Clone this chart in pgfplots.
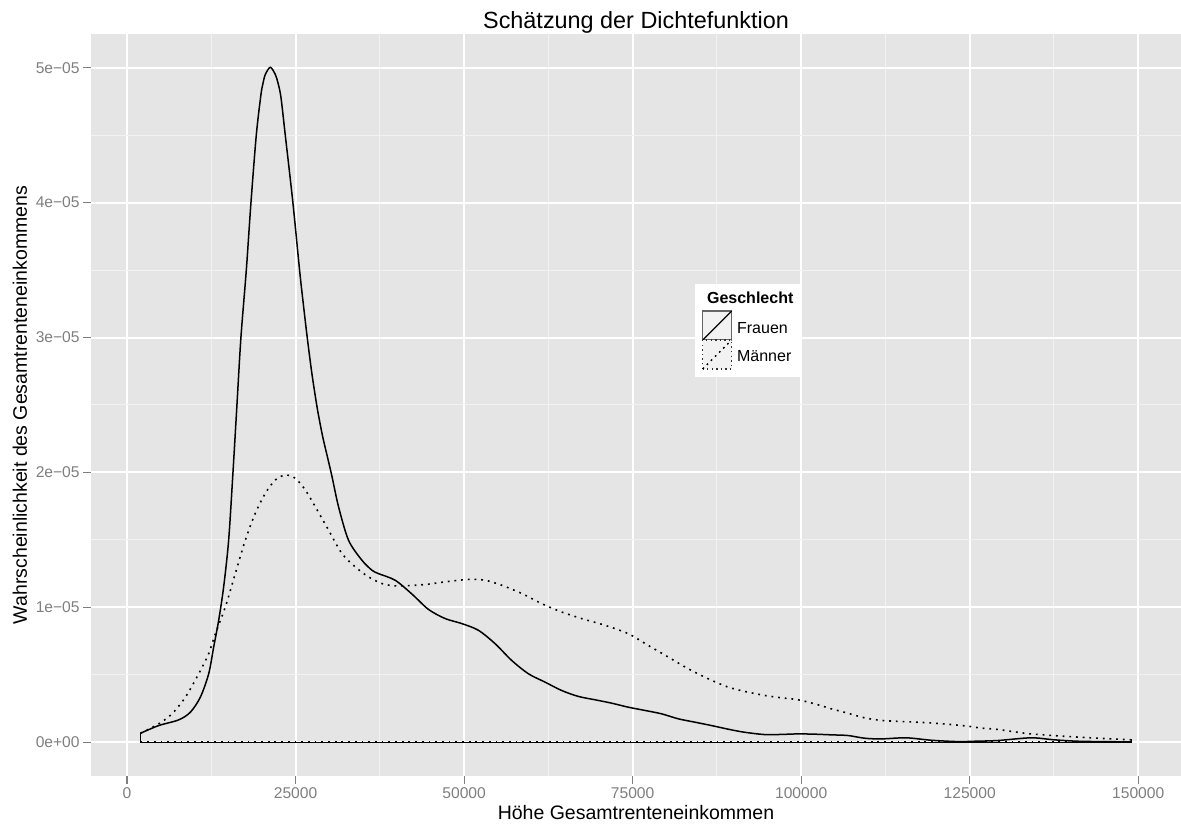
\documentclass[border=0pt]{standalone}
\usepackage{fontspec}
\setmainfont{Liberation Sans}
\usepackage{pgfplots}
\pgfplotsset{compat=1.18}
\definecolor{ggbg}{HTML}{E5E5E5}
\definecolor{ggminor}{HTML}{F2F2F2}
\definecolor{ggtick}{HTML}{7F7F7F}
\definecolor{ggkey}{HTML}{F2F2F2}
\begin{document}
\begin{tikzpicture}
\useasboundingbox (-45.5pt,-23.5pt) rectangle (545pt,388pt);
\begin{axis}[
  at={(0pt,0pt)}, anchor=south west,
  scale only axis, width=545pt, height=371pt,
  xmin=-5350, xmax=156350, ymin=-0.25e-5, ymax=5.25e-5,
  axis background/.style={fill=ggbg},
  axis line style={draw=none},
  xtick={0,25000,50000,75000,100000,125000,150000},
  xticklabels={0,25000,50000,75000,100000,125000,150000},
  ytick={0,1e-5,2e-5,3e-5,4e-5,5e-5},
  yticklabels={0e+00,1e−05,2e−05,3e−05,4e−05,5e−05},
  minor xtick={12500,37500,62500,87500,112500,137500},
  minor ytick={0.5e-5,1.5e-5,2.5e-5,3.5e-5,4.5e-5},
  grid=both,
  major grid style={white, line width=1pt},
  minor grid style={ggminor, line width=0.5pt},
  tick align=outside, tick pos=left,
  major tick length=4pt, minor tick length=0pt,
  major tick style={ggtick, line width=0.6pt},
  scaled ticks=false,
  ticklabel style={font=\fontsize{7.8}{9}\selectfont, text=ggtick, inner sep=1.5pt},
  xlabel={Höhe Gesamtrenteneinkommen},
  ylabel={Wahrscheinlichkeit des Gesamtrenteneinkommens},
  label style={font=\fontsize{9.75}{11.7}\selectfont},
  xlabel style={at={(axis description cs:0.5,0)}, anchor=base, yshift=-22pt},
  ylabel style={at={(axis description cs:0,0.5)}, anchor=center, yshift=35.5pt},
  title={Schätzung der Dichtefunktion},
  title style={at={(axis description cs:0.5,1)}, anchor=base, yshift=-3.1pt, font=\fontsize{11.7}{14}\selectfont},
  clip=false,
]
% Maenner (dotted)
\addplot[black, line width=0.8pt, dash pattern=on 0.9pt off 2.45pt, smooth, tension=0.5] coordinates {
(2000,0.067e-5)(4700,0.137e-5)(6670,0.211e-5)(8650,0.334e-5)(10630,0.508e-5)
(12110,0.657e-5)(13100,0.805e-5)(14580,1.003e-5)(16060,1.251e-5)(17540,1.498e-5)
(19020,1.697e-5)(20510,1.845e-5)(21990,1.944e-5)(23470,1.981e-5)(24950,1.957e-5)
(26440,1.870e-5)(27920,1.746e-5)(29890,1.573e-5)(31860,1.400e-5)(33850,1.300e-5)
(35820,1.226e-5)(37790,1.177e-5)(39770,1.159e-5)(42230,1.162e-5)(44710,1.172e-5)
(47180,1.189e-5)(50640,1.207e-5)(53110,1.201e-5)(55570,1.164e-5)(58540,1.103e-5)
(61500,1.028e-5)(64460,0.966e-5)(67430,0.917e-5)(70900,0.867e-5)(74350,0.805e-5)
(77310,0.718e-5)(80270,0.632e-5)(83240,0.545e-5)(86200,0.471e-5)(89170,0.409e-5)
(91800,0.375e-5)(94610,0.347e-5)(97000,0.330e-5)(99540,0.315e-5)(102000,0.285e-5)
(104480,0.248e-5)(106950,0.215e-5)(109420,0.181e-5)(111900,0.162e-5)(114360,0.155e-5)
(119300,0.143e-5)(124240,0.122e-5)(126700,0.105e-5)(129180,0.095e-5)(134120,0.062e-5)
(141520,0.037e-5)(148930,0.018e-5)(149000,0.018e-5)
};
\addplot[black, line width=0.8pt, dash pattern=on 0.9pt off 2.45pt] coordinates {
(149000,0.018e-5)(149000,0)(2000,0)(2000,0.067e-5)
};
% Frauen (solid)
\addplot[black, line width=0.75pt, smooth, tension=0.5] coordinates {
(2000,0.067e-5)(4700,0.124e-5)(7660,0.166e-5)(9390,0.223e-5)(10870,0.334e-5)
(12110,0.508e-5)(12850,0.706e-5)(13590,0.904e-5)(14330,1.152e-5)(15070,1.498e-5)
(15710,2.000e-5)(16300,2.500e-5)(16890,3.000e-5)(17690,3.500e-5)(18380,4.000e-5)
(19170,4.500e-5)(19860,4.800e-5)(20150,4.880e-5)(20510,4.950e-5)(21250,5.003e-5)
(21990,4.950e-5)(22400,4.885e-5)(22830,4.780e-5)(23470,4.500e-5)(24600,4.000e-5)
(25590,3.500e-5)(26120,3.260e-5)(26680,3.020e-5)(27400,2.740e-5)(28200,2.480e-5)
(29000,2.270e-5)(29700,2.120e-5)(30400,1.970e-5)(31370,1.746e-5)(32850,1.498e-5)
(34830,1.350e-5)(36310,1.276e-5)(37300,1.250e-5)(39770,1.201e-5)(42230,1.100e-5)
(44710,0.985e-5)(47180,0.917e-5)(49640,0.880e-5)(52120,0.830e-5)(54590,0.731e-5)
(57050,0.607e-5)(59530,0.508e-5)(62000,0.446e-5)(64460,0.384e-5)(66940,0.340e-5)
(69410,0.315e-5)(71870,0.290e-5)(74350,0.260e-5)(76820,0.236e-5)(79280,0.211e-5)
(81760,0.174e-5)(84230,0.149e-5)(86690,0.124e-5)(89170,0.097e-5)(91500,0.075e-5)
(94610,0.057e-5)(97000,0.058e-5)(99540,0.062e-5)(102000,0.060e-5)(104480,0.055e-5)
(106950,0.050e-5)(109420,0.030e-5)(111900,0.025e-5)(115590,0.033e-5)(119300,0.015e-5)
(123250,0.005e-5)(126000,0.008e-5)(129180,0.013e-5)(134120,0.033e-5)(137580,0.018e-5)
(141520,0.007e-5)(149000,0.003e-5)
};
\addplot[black, line width=0.75pt] coordinates {
(149000,0.003e-5)(149000,0)(2000,0)(2000,0.067e-5)
};
\end{axis}
% legend
\fill[white] (302pt,199.5pt) rectangle (355pt,246pt);
\node[anchor=base west, inner sep=0pt, font=\bfseries\fontsize{8}{9.6}\selectfont] at (307.85pt,236.35pt) {Geschlecht};
\draw[black!60, line width=0.6pt, fill=ggkey] (305.85pt,218pt) rectangle (320.35pt,232.5pt);
\draw[black, line width=0.6pt] (305.85pt,218pt) -- (320.35pt,232.5pt);
\draw[black!80, line width=0.6pt, fill=ggkey, dash pattern=on 0.7pt off 1.6pt] (305.85pt,203.5pt) rectangle (320.35pt,218pt);
\draw[black, line width=0.7pt, dash pattern=on 0.9pt off 2pt] (305.85pt,203.5pt) -- (320.35pt,218pt);
\node[anchor=base west, inner sep=0pt, font=\fontsize{8}{9.6}\selectfont] at (322.85pt,221.35pt) {Frauen};
\node[anchor=base west, inner sep=0pt, font=\fontsize{8}{9.6}\selectfont] at (322.85pt,207.15pt) {Männer};
\end{tikzpicture}
\end{document}
